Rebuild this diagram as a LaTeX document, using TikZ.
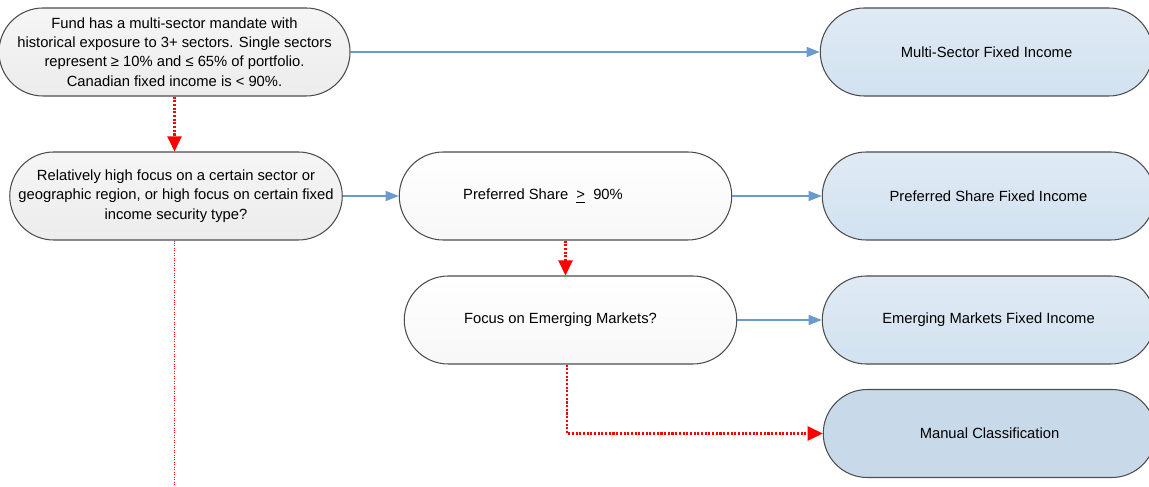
\documentclass[tikz,border=0pt]{standalone}
\usepackage{fontspec}
\setmainfont{Liberation Sans}
\usetikzlibrary{shapes.misc, arrows.meta}

\definecolor{edgeblue}{RGB}{106,155,204}
\definecolor{lightblue}{RGB}{224,234,244}
\definecolor{midblue}{RGB}{210,226,240}
\definecolor{darkblue}{RGB}{200,218,234}
\definecolor{boxgray}{RGB}{236,236,236}

\begin{document}
\begin{tikzpicture}[
        base/.style={rounded rectangle, draw=black!70, line width=0.6pt, minimum width=6.72cm, minimum height=1.76cm,
                align=center, inner sep=1pt, font=\fontsize{8.4}{11}\selectfont}, % Общий вид блоков
        test/.style={base, top color=boxgray!50, bottom color=boxgray},
        choice/.style={base, top color=white, bottom color=black!3},
        result/.style={base, top color=lightblue, bottom color=midblue},
        manual/.style={base, fill=darkblue},
        yesline/.style={draw=edgeblue, line width=0.8pt, -{Triangle[length=0.26cm, width=0.2cm]}}, % Переход "да"
        noline/.style={draw=red, line width=1.2pt, dash pattern=on 1.2pt off 0.9pt, -{Triangle[length=0.3cm, width=0.28cm]}}, % Переход "нет"
    ]
    \useasboundingbox (0,0) rectangle (22.98,-9.74);

    % Левая колонка
    \node[test] (multi) at (3.49,-1.04) {Fund has a multi-sector mandate with\\historical exposure to 3+ sectors. Single sectors\\represent ≥ 10\% and ≤ 65\% of portfolio.\\Canadian fixed income is < 90\%.};
    \node[test] (focus) at (3.52,-3.92) {Relatively high focus on a certain sector or\\geographic region, or high focus on certain fixed\\income security type?};

    % Средняя колонка
    \node[choice] (pref) at (11.31,-3.92) {Preferred Share \ \underline{>} \ 90\%\hspace*{0.9cm}};
    \node[choice] (emerg) at (11.41,-6.40) {\raisebox{0.08cm}{Focus on Emerging Markets?}\hspace*{0.4cm}};

    % Правая колонка
    \node[result] (multiFI) at (19.73,-1.04) {Multi-Sector Fixed Income};
    \node[result] (prefFI) at (19.77,-3.92) {Preferred Share Fixed Income};
    \node[result] (emergFI) at (19.77,-6.40) {Emerging Markets Fixed Income};
    \node[manual] (manualC) at (19.79,-8.67) {Manual Classification};

    \coordinate (down) at (3.48,-9.74);

    % Переходы
    \draw[yesline] (multi.east) -- (multiFI.west);
    \draw[yesline] (focus.east) -- (pref.west);
    \draw[yesline] (pref.east) -- (prefFI.west);
    \draw[yesline] (emerg.east) -- (emergFI.west);
    \draw[noline] (multi.south) -- (multi.south |- focus.north);
    \draw[noline] (pref.south) -- (pref.south |- emerg.north);
    \draw[noline] ([xshift=-0.07cm]emerg.south) |- (manualC.west);
    \draw[red, line width=0.4pt, densely dotted] (focus.south -| down) -- (down);
\end{tikzpicture}
\end{document}
